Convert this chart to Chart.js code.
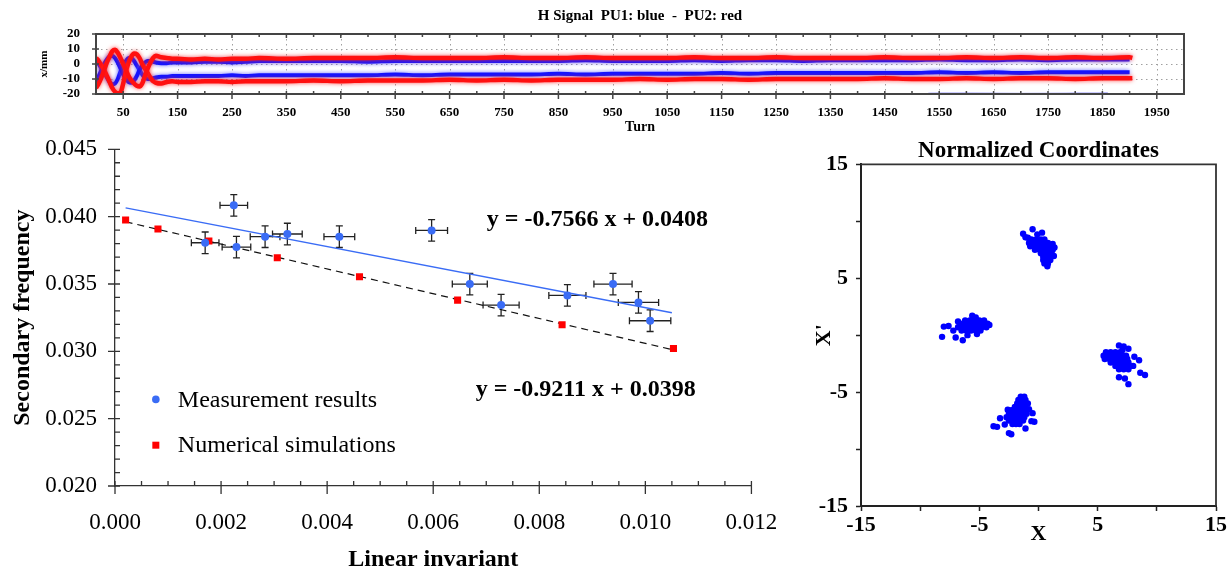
<!DOCTYPE html>
<html>
<head>
<meta charset="utf-8">
<script src="https://cdn.jsdelivr.net/npm/chart.js@4.4.1/dist/chart.umd.min.js"></script>
<style>
  html, body { margin: 0; padding: 0; background: #fff; }
  body { width: 1230px; height: 574px; position: relative; overflow: hidden; }
  .panel { position: absolute; }
  #signalPanel { left: 0; top: 0; width: 1230px; height: 136px; }
  #freqPanel { left: 0; top: 130px; width: 800px; height: 444px; }
  #phasePanel { left: 800px; top: 130px; width: 430px; height: 444px; }
</style>
</head>
<body>
<div class="panel" id="signalPanel"><canvas id="signalChart"></canvas></div>
<div class="panel" id="freqPanel"><canvas id="freqChart"></canvas></div>
<div class="panel" id="phasePanel"><canvas id="phaseChart"></canvas></div>
<script>
const SERIF = "'Liberation Serif', 'Times New Roman', serif";
Chart.defaults.font.family = SERIF;
Chart.defaults.color = '#000';
Chart.defaults.animation = false;

// ---- top panel: turn by turn signal of the two pick-ups
const signalTurns = [0, 5, 10, 15, 20, 25, 30, 35, 40, 45, 50, 55, 60, 65, 70, 75, 80, 85, 90, 95, 100, 105, 110,
  120, 130, 140, 150, 175, 200, 225, 250, 275, 300,
  350, 400, 450, 500, 550, 600, 650, 700, 750, 800, 850, 900, 950, 1000, 1050, 1100, 1150, 1200,
  1250, 1300, 1350, 1400, 1450, 1500, 1550, 1600, 1650, 1700, 1750, 1800, 1850, 1900, 1905];
const pu1Upper = [-12, -8, -4, 0, 3, 5, 5.5, 4, 1, -3, -7, -10, -12, -12.5, -11, -8, -4, -1, 1, 2, 2, 1.5, 1,
  0.5, 0.5, 1, 1, 1, 1.5, 1.5, 1, 1.5, 2,
  2, 2, 2, 1.5, 2, 2, 2, 2, 2, 2, 2, 2.5, 2, 2, 2, 2.5,
  2, 2.5, 2.5, 2, 2.5, 2.5, 2.5, 2.5, 3, 2.5, 2.5, 3, 2.5, 3, 3, 3];
const pu1Lower = [2, 0, -3, -6, -9, -12, -13.5, -13, -10, -5, -1, 2, 4, 4, 2, -1, -4, -7, -9, -10, -10, -9.5, -9,
  -8.5, -8.5, -8, -8, -8, -8, -8, -7.5, -8, -7.5,
  -7.5, -7.5, -7.5, -7.5, -7, -7.5, -7, -7, -7, -7, -6.5, -7, -6.5, -6.5, -6.5, -6.5,
  -6, -6.5, -6, -6, -6, -6, -6, -6, -5.5, -6, -5.5, -6, -5.5, -5.5, -5.5, -5.5];
const pu2Upper = [-16, -13, -9, -4, 1, 5, 8.5, 9.5, 7.5, 4, 0, -4, -8, -11, -13, -14.5, -15, -13, -8, -3, 1, 4, 5.5,
  4.5, 4, 3.5, 3.5, 3, 3.5, 3, 3.5, 3.5, 4,
  3.5, 4, 4, 4, 4.5, 4, 4, 4, 4.5, 4, 4, 4.5, 4, 4, 4, 4.5,
  4, 4, 4.5, 4, 4, 4, 4.5, 4, 4, 4.5, 4, 4.5, 4, 4.5, 4, 4.5, 4];
const pu2Lower = [4, 2, -1, -4, -8, -12, -16, -18.5, -19.5, -19, -13, -5, 1, 5, 7, 6.5, 4, 0, -3, -6, -9, -11.5, -12.5,
  -13, -12, -11.5, -12, -12, -11.5, -11.5, -12, -11.5, -11.5,
  -11.5, -11, -11.5, -11, -11, -11, -10.5, -11, -10.5, -11, -10.5, -10.5, -10.5, -10, -10.5, -10,
  -10, -10.5, -10, -10, -10, -10, -9.5, -10, -10, -9.5, -10, -9.5, -9.5, -10, -9.5, -9.5, -9.5];
const strayTurns = [1530, 1600, 1700, 1800, 1860];
const strayValues = [-19.5, -19.3, -19.6, -19.4, -19.2];
const turnTicks = [50, 150, 250, 350, 450, 550, 650, 750, 850, 950, 1050, 1150, 1250, 1350, 1450, 1550, 1650, 1750, 1850, 1950];
const signalTicks = [-20, -10, 0, 10, 20];

// ---- middle panel: secondary frequency vs linear invariant
const measX = [0.00170, 0.00224, 0.00229, 0.00283, 0.00325, 0.00423, 0.00597, 0.00669, 0.00728, 0.00853, 0.00939, 0.00987, 0.01009];
const measY = [0.03806, 0.04084, 0.03774, 0.03851, 0.03871, 0.03851, 0.03898, 0.03499, 0.03343, 0.03415, 0.03499, 0.03363, 0.03227];
const measXErr = [0.00026, 0.00026, 0.00027, 0.00028, 0.00028, 0.00029, 0.00030, 0.00033, 0.00034, 0.00035, 0.00036, 0.00038, 0.00039];
const measYErr = [0.0008, 0.0008, 0.0008, 0.0008, 0.0008, 0.0008, 0.0008, 0.0008, 0.0008, 0.0008, 0.0008, 0.0008, 0.0008];
const simX = [0.00020, 0.00081, 0.00177, 0.00306, 0.00461, 0.00646, 0.00843, 0.01053];
const simY = [0.03975, 0.03908, 0.03819, 0.03695, 0.03554, 0.03380, 0.03197, 0.03021];
const fitX = [0.0002, 0.0105];
const fitMeasY = [0.04065, 0.03286];
const fitSimY = [0.03962, 0.03013];
const freqXTicks = [0, 0.002, 0.004, 0.006, 0.008, 0.010, 0.012];
const freqYTicks = [0.020, 0.025, 0.030, 0.035, 0.040, 0.045];

// ---- right panel: normalized phase space, four islands
const islandTop = [
  [-0.6, 8.4], [-0.2, 8.4], [0.2, 8.4], [0.5, 8.4],
  [-0.8, 8.1], [-0.4, 8.1], [0.0, 8.1], [0.4, 8.1], [0.8, 8.1],
  [-0.7, 7.8], [-0.3, 7.8], [0.1, 7.8], [0.5, 7.8], [0.9, 7.8],
  [-0.3, 7.5], [0.1, 7.5], [0.5, 7.5], [0.9, 7.5], [1.2, 7.5],
  [0.2, 7.2], [0.5, 7.2], [0.8, 7.2], [1.1, 7.2],
  [0.4, 6.9], [0.7, 6.9], [1.0, 6.9],
  [0.4, 6.6], [0.7, 6.6], [1.0, 6.6],
  [0.5, 6.3], [0.8, 6.3],
  [-1.3, 8.9], [-0.5, 9.3], [-0.1, 8.85], [-1.1, 8.6], [1.2, 8.0], [1.35, 7.7],
  [-0.9, 8.55], [0.3, 9.0], [1.3, 6.95], [0.75, 6.05]
];
const islandLeft = [
  [-6.2, 1.3], [-5.8, 1.3], [-5.4, 1.3], [-5.0, 1.3], [-4.6, 1.3],
  [-6.6, 1.0], [-6.2, 1.0], [-5.8, 1.0], [-5.4, 1.0], [-5.0, 1.0], [-4.6, 1.0], [-4.3, 1.0],
  [-6.8, 0.7], [-6.4, 0.7], [-6.0, 0.7], [-5.6, 0.7], [-5.2, 0.7], [-4.8, 0.7], [-4.4, 0.7],
  [-6.5, 0.4], [-6.1, 0.4], [-5.7, 0.4], [-5.3, 0.4], [-4.9, 0.4],
  [-8.0, 0.75], [-7.6, 0.8], [-8.15, -0.15], [-7.0, -0.2], [-6.4, -0.45], [-6.0, 0.0],
  [-5.6, 1.7], [-5.3, 1.55], [-7.2, 0.4], [-6.8, 1.2], [-4.15, 0.9], [-5.2, 0.1]
];
const islandRight = [
  [5.7, -1.5], [6.1, -1.5], [6.5, -1.5], [6.9, -1.5],
  [5.5, -1.8], [5.9, -1.8], [6.3, -1.8], [6.7, -1.8], [7.1, -1.8], [7.4, -1.8],
  [5.6, -2.1], [6.0, -2.1], [6.4, -2.1], [6.8, -2.1], [7.2, -2.1], [7.5, -2.1],
  [6.1, -2.4], [6.5, -2.4], [6.9, -2.4], [7.3, -2.4], [7.6, -2.4],
  [6.5, -2.7], [6.9, -2.7], [7.3, -2.7], [7.7, -2.7],
  [6.8, -3.0], [7.2, -3.0], [7.6, -3.0],
  [6.8, -0.9], [7.2, -1.0], [7.6, -1.2], [8.1, -1.9], [8.5, -2.2], [8.6, -3.3],
  [9.0, -3.5], [6.8, -3.7], [7.3, -3.8], [7.6, -4.3], [7.1, -1.3], [8.0, -2.7]
];
const islandBottom = [
  [-1.5, -5.4], [-1.2, -5.4],
  [-1.7, -5.7], [-1.4, -5.7], [-1.1, -5.7],
  [-1.8, -6.0], [-1.5, -6.0], [-1.2, -6.0], [-0.9, -6.0],
  [-2.0, -6.3], [-1.7, -6.3], [-1.4, -6.3], [-1.1, -6.3],
  [-2.3, -6.6], [-2.0, -6.6], [-1.7, -6.6], [-1.4, -6.6], [-1.1, -6.6],
  [-2.5, -6.9], [-2.2, -6.9], [-1.9, -6.9], [-1.6, -6.9], [-1.3, -6.9], [-1.0, -6.9],
  [-2.7, -7.2], [-2.4, -7.2], [-2.1, -7.2], [-1.8, -7.2], [-1.5, -7.2], [-1.2, -7.2],
  [-2.5, -7.5], [-2.2, -7.5], [-1.9, -7.5], [-1.6, -7.5], [-1.3, -7.5],
  [-2.2, -7.8], [-1.9, -7.8], [-1.6, -7.8],
  [-3.8, -8.0], [-3.5, -8.05], [-2.85, -7.85], [-2.5, -8.6], [-2.3, -8.7], [-1.1, -8.2],
  [-0.5, -6.85], [-0.6, -7.55], [-0.35, -7.6], [-2.6, -6.55], [-3.25, -7.3], [-0.8, -6.5]
];
const phaseTicks = [-15, -10, -5, 0, 5, 10, 15];
const phaseLabels = [-15, -5, 5, 15];

const toPoints = (xs, ys) => xs.map((x, i) => ({ x, y: ys[i] }));
// fixed axis sizes; the label overhang is dropped so the plot box sits where the layout padding puts it
const fixWidth = w => scale => { scale.width = w; scale.paddingTop = 0; scale.paddingBottom = 0; };
const fixHeight = h => scale => { scale.height = h; };
const setTicks = values => scale => { scale.ticks = values.map(value => ({ value })); };

// ================= top panel =================
const signalFrame = {
  id: 'signalFrame',
  beforeDatasetsDraw(chart) {
    const { ctx, chartArea: a, scales: { x, y } } = chart;
    ctx.save();
    ctx.strokeStyle = '#a0a0a0';
    ctx.lineWidth = 1;
    ctx.setLineDash([1.5, 3.5]);
    ctx.beginPath();
    turnTicks.forEach(t => {
      const px = Math.round(x.getPixelForValue(t)) + 0.5;
      ctx.moveTo(px, a.top);
      ctx.lineTo(px, a.bottom);
    });
    [-10, 0, 10].forEach(v => {
      const py = Math.round(y.getPixelForValue(v)) + 0.5;
      ctx.moveTo(a.left, py);
      ctx.lineTo(a.right, py);
    });
    ctx.stroke();
    ctx.restore();
  },
  // soft halo around the bands, like the scope trace
  beforeDatasetDraw(chart, args) {
    const glow = chart.data.datasets[args.index].glow;
    chart.ctx.save();
    if (glow) {
      chart.ctx.shadowColor = glow;
      chart.ctx.shadowBlur = 4;
    }
  },
  afterDatasetDraw(chart) {
    chart.ctx.restore();
  },
  afterDatasetsDraw(chart) {
    const { ctx, chartArea: a, scales: { x, y } } = chart;
    ctx.save();
    ctx.strokeStyle = '#444';
    ctx.lineWidth = 1.5;
    ctx.beginPath();
    turnTicks.forEach(t => {
      const px = x.getPixelForValue(t);
      ctx.moveTo(px, a.bottom - 3); ctx.lineTo(px, a.bottom + 5);
      ctx.moveTo(px, a.top); ctx.lineTo(px, a.top + 4);
      const mx = x.getPixelForValue(t + 50);
      ctx.moveTo(mx, a.bottom - 3); ctx.lineTo(mx, a.bottom);
      ctx.moveTo(mx, a.top); ctx.lineTo(mx, a.top + 3);
    });
    signalTicks.forEach(v => {
      const py = y.getPixelForValue(v);
      ctx.moveTo(a.left - 4, py); ctx.lineTo(a.left + 3, py);
    });
    ctx.stroke();
    ctx.lineWidth = 2;
    ctx.strokeRect(a.left, a.top, a.right - a.left, a.bottom - a.top);
    ctx.restore();
  }
};

new Chart(document.getElementById('signalChart'), {
  type: 'line',
  data: {
    datasets: [
      { label: 'PU2 upper', data: toPoints(signalTurns, pu2Upper), borderColor: '#ff1010', borderWidth: 4.5, glow: 'rgba(255,40,40,0.8)' },
      { label: 'PU2 lower', data: toPoints(signalTurns, pu2Lower), borderColor: '#ff1010', borderWidth: 4.5, glow: 'rgba(255,40,40,0.8)' },
      { label: 'PU1 upper', data: toPoints(signalTurns, pu1Upper), borderColor: '#1414ff', borderWidth: 4, glow: 'rgba(90,90,255,0.9)' },
      { label: 'PU1 lower', data: toPoints(signalTurns, pu1Lower), borderColor: '#1414ff', borderWidth: 4, glow: 'rgba(90,90,255,0.9)' },
      { label: 'PU1 stray', data: toPoints(strayTurns, strayValues), borderColor: 'rgba(60,60,255,0.35)', borderWidth: 1.5 }
    ]
  },
  options: {
    responsive: true,
    maintainAspectRatio: false,
    layout: { padding: { left: 0, right: 46, top: 0, bottom: 0 } },
    elements: { point: { radius: 0 }, line: { cubicInterpolationMode: 'monotone' } },
    plugins: {
      legend: { display: false },
      tooltip: { enabled: false },
      title: {
        display: true,
        fullSize: false,
        text: 'H Signal  PU1: blue  -  PU2: red',
        font: { size: 15, weight: 'bold' },
        padding: { top: 7, bottom: 9 }
      }
    },
    scales: {
      x: {
        type: 'linear', min: 0, max: 2000,
        afterBuildTicks: setTicks(turnTicks),
        afterFit: fixHeight(42),
        grid: { display: false, drawTicks: false },
        border: { display: false },
        ticks: { autoSkip: false, maxRotation: 0, padding: 11, font: { size: 13, weight: 'bold' }, callback: v => String(v) },
        title: { display: true, text: 'Turn', font: { size: 14, weight: 'bold' }, padding: { top: 0, bottom: 0 } }
      },
      y: {
        min: -20, max: 20,
        afterBuildTicks: setTicks(signalTicks),
        afterFit: fixWidth(96),
        grid: { display: false, drawTicks: false },
        border: { display: false },
        ticks: { autoSkip: false, padding: 16, font: { size: 13, weight: 'bold' }, callback: v => String(v) },
        title: { display: true, text: 'x/mm', font: { size: 11, weight: 'bold' }, padding: { top: 38, bottom: 0 } }
      }
    }
  },
  plugins: [signalFrame]
});

// ================= middle panel =================
const errorBars = {
  id: 'errorBars',
  beforeDatasetsDraw(chart) {
    const { ctx, scales: { x, y } } = chart;
    const cap = 3.5;
    ctx.save();
    ctx.strokeStyle = '#222';
    ctx.lineWidth = 1.3;
    ctx.beginPath();
    measX.forEach((mx, i) => {
      const px = x.getPixelForValue(mx), py = y.getPixelForValue(measY[i]);
      const x0 = x.getPixelForValue(mx - measXErr[i]), x1 = x.getPixelForValue(mx + measXErr[i]);
      const y0 = y.getPixelForValue(measY[i] - measYErr[i]), y1 = y.getPixelForValue(measY[i] + measYErr[i]);
      ctx.moveTo(x0, py); ctx.lineTo(x1, py);
      ctx.moveTo(x0, py - cap); ctx.lineTo(x0, py + cap);
      ctx.moveTo(x1, py - cap); ctx.lineTo(x1, py + cap);
      ctx.moveTo(px, y0); ctx.lineTo(px, y1);
      ctx.moveTo(px - cap, y0); ctx.lineTo(px + cap, y0);
      ctx.moveTo(px - cap, y1); ctx.lineTo(px + cap, y1);
    });
    ctx.stroke();
    ctx.restore();
  }
};

const minorTicks = {
  id: 'minorTicks',
  afterDraw(chart) {
    const { ctx, chartArea: a, scales: { x, y } } = chart;
    ctx.save();
    ctx.strokeStyle = '#333';
    ctx.lineWidth = 1.3;
    ctx.beginPath();
    for (let i = 0; i <= 24; i++) {
      const px = x.getPixelForValue(i * 0.0005);
      const major = i % 4 === 0;
      ctx.moveTo(px, a.bottom - 5);
      ctx.lineTo(px, major ? a.bottom + 8 : a.bottom);
    }
    for (let i = 0; i <= 25; i++) {
      const py = y.getPixelForValue(0.020 + i * 0.001);
      const major = i % 5 === 0;
      ctx.moveTo(major ? a.left - 7 : a.left, py);
      ctx.lineTo(a.left + 5, py);
    }
    ctx.stroke();
    ctx.restore();
  }
};

const fitLabels = {
  id: 'fitLabels',
  afterDatasetsDraw(chart) {
    const { ctx, scales: { x, y } } = chart;
    ctx.save();
    ctx.font = `bold 24px ${SERIF}`;
    ctx.fillStyle = '#000';
    ctx.textBaseline = 'middle';
    ctx.fillText('y = -0.7566 x + 0.0408', x.getPixelForValue(0.00701), y.getPixelForValue(0.0398));
    ctx.fillText('y = -0.9211 x + 0.0398', x.getPixelForValue(0.00680), y.getPixelForValue(0.02712));
    ctx.restore();
  }
};

const insetLegend = {
  id: 'insetLegend',
  afterDatasetsDraw(chart) {
    const { ctx, scales: { x, y } } = chart;
    const rows = [[0, 0.02643], [1, 0.02303]];
    const mx = x.getPixelForValue(0.00077);
    ctx.save();
    ctx.font = `24px ${SERIF}`;
    ctx.textBaseline = 'middle';
    rows.forEach(([i, v]) => {
      const ds = chart.data.datasets[i];
      const py = y.getPixelForValue(v);
      ctx.fillStyle = ds.backgroundColor;
      if (ds.pointStyle === 'rect') {
        ctx.fillRect(mx - 3.5, py - 3.5, 7, 7);
      } else {
        ctx.beginPath();
        ctx.arc(mx, py, 3.8, 0, Math.PI * 2);
        ctx.fill();
      }
      ctx.fillStyle = '#000';
      ctx.fillText(ds.label, mx + 22, py + 1);
    });
    ctx.restore();
  }
};

new Chart(document.getElementById('freqChart'), {
  type: 'scatter',
  data: {
    datasets: [
      { label: 'Measurement results', data: toPoints(measX, measY), backgroundColor: '#3a6cf5', borderWidth: 0,
        pointRadius: 4, pointStyle: 'circle', order: 0 },
      { label: 'Numerical simulations', data: toPoints(simX, simY), backgroundColor: '#ff0000', borderWidth: 0,
        pointRadius: 5, pointStyle: 'rect', order: 1 },
      { label: 'fit measurement', data: toPoints(fitX, fitMeasY), showLine: true, borderColor: '#3a6cf5',
        borderWidth: 1.4, pointRadius: 0, order: 3 },
      { label: 'fit simulation', data: toPoints(fitX, fitSimY), showLine: true, borderColor: '#111',
        borderWidth: 1.2, borderDash: [7, 5], pointRadius: 0, order: 2 }
    ]
  },
  options: {
    responsive: true,
    maintainAspectRatio: false,
    layout: { padding: { left: 0, right: 47, top: 19.3, bottom: 0 } },
    plugins: { legend: { display: false }, tooltip: { enabled: false } },
    scales: {
      x: {
        type: 'linear', min: 0, max: 0.012,
        afterBuildTicks: setTicks(freqXTicks),
        afterFit: fixHeight(88),
        grid: { display: false, drawTicks: false },
        border: { display: true, color: '#333', width: 1.3 },
        ticks: { autoSkip: false, maxRotation: 0, padding: 22.7, font: { size: 23 }, callback: v => v.toFixed(3) },
        title: { display: true, text: 'Linear invariant', font: { size: 24, weight: 'bold' }, padding: { top: 0, bottom: 0 } }
      },
      y: {
        type: 'linear', min: 0.020, max: 0.045,
        afterBuildTicks: setTicks(freqYTicks),
        afterFit: fixWidth(115),
        grid: { display: false, drawTicks: false },
        border: { display: true, color: '#333', width: 1.3 },
        ticks: { padding: 18, font: { size: 23 }, callback: v => v.toFixed(3) },
        title: { display: true, text: 'Secondary frequency', font: { size: 24, weight: 'bold' }, padding: { top: 8.6, bottom: 0 } }
      }
    }
  },
  plugins: [errorBars, minorTicks, fitLabels, insetLegend]
});

// ================= right panel =================
const boxFrame = {
  id: 'boxFrame',
  afterDatasetsDraw(chart) {
    const { ctx, chartArea: a } = chart;
    ctx.save();
    ctx.strokeStyle = '#333';
    ctx.lineWidth = 1.8;
    ctx.beginPath();
    ctx.moveTo(a.left, a.top); ctx.lineTo(a.right, a.top); ctx.lineTo(a.right, a.bottom);
    ctx.stroke();
    ctx.restore();
  }
};

const islandStyle = { backgroundColor: '#0000ff', borderWidth: 0, pointRadius: 3.2 };

new Chart(document.getElementById('phaseChart'), {
  type: 'scatter',
  data: {
    datasets: [
      { label: 'island 1', data: islandTop.map(([x, y]) => ({ x, y })), ...islandStyle },
      { label: 'island 2', data: islandLeft.map(([x, y]) => ({ x, y })), ...islandStyle },
      { label: 'island 3', data: islandRight.map(([x, y]) => ({ x, y })), ...islandStyle },
      { label: 'island 4', data: islandBottom.map(([x, y]) => ({ x, y })), ...islandStyle }
    ]
  },
  options: {
    responsive: true,
    maintainAspectRatio: false,
    layout: { padding: { left: 0, right: 14, top: 0, bottom: 0 } },
    plugins: {
      legend: { display: false },
      tooltip: { enabled: false },
      title: {
        display: true,
        fullSize: false,
        text: 'Normalized Coordinates',
        font: { size: 23, weight: 'bold', lineHeight: 1 },
        padding: { top: 10, bottom: 1.3 }
      }
    },
    scales: {
      x: {
        type: 'linear', min: -15, max: 15,
        afterBuildTicks: setTicks(phaseTicks),
        afterFit: fixHeight(68),
        grid: { drawOnChartArea: false, drawTicks: true, tickLength: 5, tickColor: '#222', tickWidth: 1.5 },
        border: { display: true, color: '#222', width: 2 },
        ticks: { autoSkip: false, maxRotation: 0, padding: 1, font: { size: 22, weight: 'bold' },
          callback: v => phaseLabels.includes(v) ? String(v) : '' },
        title: { display: true, text: 'X', font: { size: 22, weight: 'bold' }, padding: { top: 0, bottom: 26 } }
      },
      y: {
        type: 'linear', min: -15, max: 15,
        afterBuildTicks: setTicks(phaseTicks),
        afterFit: fixWidth(61),
        grid: { drawOnChartArea: false, drawTicks: true, tickLength: 5, tickColor: '#222', tickWidth: 1.5 },
        border: { display: true, color: '#222', width: 2 },
        ticks: { autoSkip: false, padding: 8, font: { size: 22, weight: 'bold' },
          callback: v => phaseLabels.includes(v) ? String(v) : '' },
        title: { display: true, text: "X'", font: { size: 22, weight: 'bold' }, padding: { top: 11, bottom: 0 } }
      }
    }
  },
  plugins: [boxFrame]
});
</script>
</body>
</html>
